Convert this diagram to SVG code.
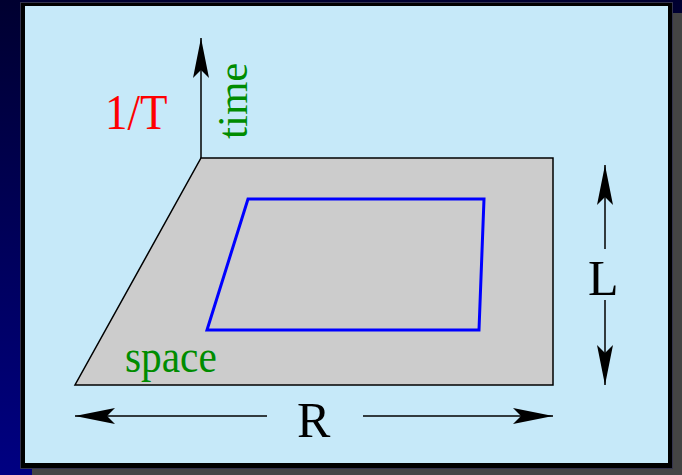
<svg xmlns="http://www.w3.org/2000/svg" width="682" height="475" viewBox="0 0 682 475">
<defs>
<linearGradient id="bg" x1="0" y1="0" x2="0" y2="1">
<stop offset="0" stop-color="#000030"/>
<stop offset="1" stop-color="#000082"/>
</linearGradient>
<marker id="ah" viewBox="0 0 40 16" refX="40" refY="8" markerWidth="40" markerHeight="16" markerUnits="userSpaceOnUse" orient="auto">
<path d="M0,0 L40,8 L0,16 L8,8 Z" fill="#000"/>
</marker>
<style>
.ln{stroke:#000;stroke-width:1.5;fill:none}
.lbl{font-family:"Liberation Serif","Times New Roman",serif}
</style>
</defs>
<rect x="0" y="0" width="682" height="475" fill="url(#bg)"/>
<rect x="32" y="13" width="650" height="462" fill="#444"/>
<rect x="20.5" y="2.5" width="652" height="466" fill="#000" stroke="#33334d" stroke-width="1"/>
<rect x="25" y="6" width="643" height="457" fill="#c6e9f9"/>
<g id="plane">
<polygon points="201,158 553,158 553,385 75,385" fill="#cccccc" stroke="#000" stroke-width="1.5"/>
</g>
<g id="region">
<polygon points="248,199 484,199 479,330 207,330" fill="none" stroke="#0000ff" stroke-width="3"/>
</g>
<g id="connectors">
<line class="ln" x1="201" y1="158" x2="201" y2="38" marker-end="url(#ah)"/>
<line class="ln" x1="605" y1="249" x2="605" y2="165" marker-end="url(#ah)"/>
<line class="ln" x1="605" y1="300" x2="605" y2="385" marker-end="url(#ah)"/>
<line class="ln" x1="267" y1="416" x2="75" y2="416" marker-end="url(#ah)"/>
<line class="ln" x1="363" y1="416" x2="553" y2="416" marker-end="url(#ah)"/>
</g>
<g id="label-1T"><text class="lbl" transform="translate(105,129) scale(0.9,1)" font-size="50" fill="#ff0000">1/T</text></g>
<g id="label-time"><text class="lbl" transform="translate(247,139) rotate(-90)" font-size="43" fill="#008c00">time</text></g>
<g id="label-space"><text class="lbl" transform="translate(125,372) scale(0.88,1)" font-size="47" fill="#008c00">space</text></g>
<g id="label-L"><text class="lbl" x="588" y="295" font-size="50" fill="#000">L</text></g>
<g id="label-R"><text class="lbl" x="297" y="437" font-size="50" fill="#000">R</text></g>
</svg>
